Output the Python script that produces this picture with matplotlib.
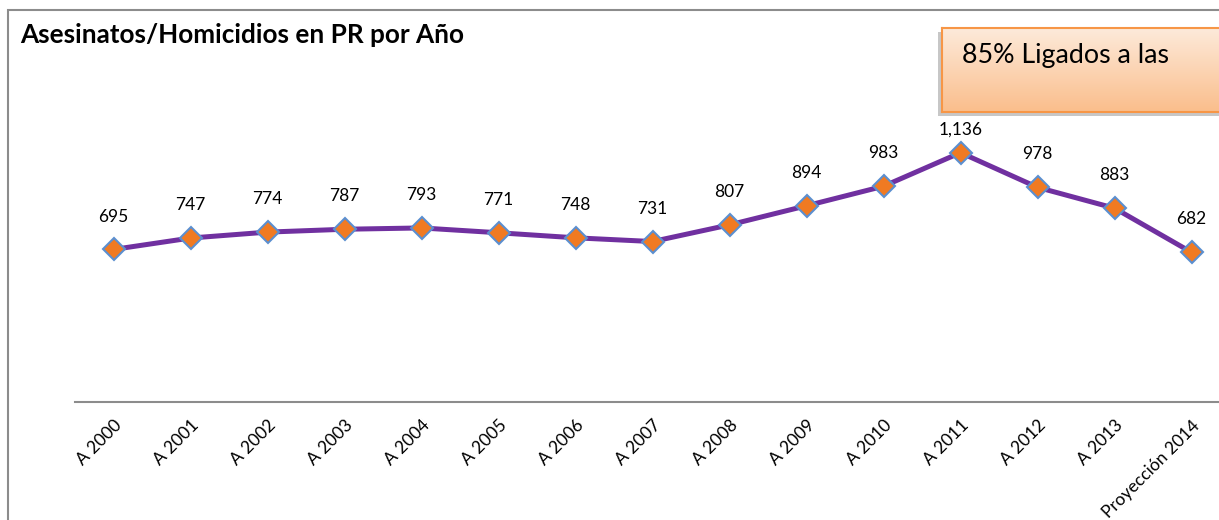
import numpy as np
import matplotlib.pyplot as plt
from matplotlib.patches import Rectangle

# data
years = ['A 2000', 'A 2001', 'A 2002', 'A 2003', 'A 2004', 'A 2005', 'A 2006',
         'A 2007', 'A 2008', 'A 2009', 'A 2010', 'A 2011', 'A 2012', 'A 2013',
         'Proyección 2014']
homicidios = [695, 747, 774, 787, 793, 771, 748, 731, 807, 894, 983, 1136, 978, 883, 682]
labels = ['695', '747', '774', '787', '793', '771', '748', '731', '807', '894',
          '983', '1,136', '978', '883', '682']

plt.rcParams['font.family'] = ['Lato', 'DejaVu Sans']

W, H = 1219, 520
fig = plt.figure(figsize=(W / 100, H / 100), dpi=100)

# chart border (cropped on right and bottom)
fig.patches.append(Rectangle((8 / W, -0.1), 1.2, 1 - 10 / H + 0.1,
                             transform=fig.transFigure, fill=False,
                             edgecolor='#8c8c8c', linewidth=1.5))

# plot area: axis line at y=402px, 77px per category
ax = fig.add_axes([75 / W, 1 - 402 / H, 1155 / W, (402 - 138.6) / H])
x = np.arange(len(years))
ax.plot(x, homicidios, color='#7030A0', linewidth=3.6, zorder=2,
        marker='D', markersize=11.5, markerfacecolor='#F07A22',
        markeredgecolor='#5B8FD0', markeredgewidth=1.5)
ax.set_xlim(-0.5, len(years) - 0.5)
ax.set_ylim(0, 1200)

for xi, v, lab in zip(x, homicidios, labels):
    ax.text(xi, min(v + 150, 1240), lab, ha='center', va='center',
            fontsize=12.5, color='black', clip_on=False)

for s in ['top', 'right', 'left']:
    ax.spines[s].set_visible(False)
ax.spines['bottom'].set_color('#8c8c8c')
ax.spines['bottom'].set_linewidth(1.5)
ax.set_yticks([])
ax.set_xticks(x)
ax.set_xticklabels(years, rotation=45, ha='right', rotation_mode='anchor',
                   fontsize=12.5)
ax.tick_params(axis='x', length=0, pad=11)
ax.patch.set_visible(False)

fig.text(20 / W, 1 - 35 / H, 'Asesinatos/Homicidios en PR por Año',
         fontsize=18.8, fontweight='bold', ha='left', va='center')

# orange gradient text box
bx, by, bw, bh = 942 / W, 1 - 112 / H, 300 / W, 84 / H
fig.patches.append(Rectangle((bx - 4 / W, by - 4 / H), bw, bh,
                             transform=fig.transFigure, facecolor='#9a9a9a',
                             alpha=0.55, edgecolor='none', zorder=3))
bax = fig.add_axes([bx, by, bw, bh], zorder=4)
grad = np.linspace(0, 1, 100).reshape(-1, 1)
c1 = np.array([253, 234, 218]) / 255
c2 = np.array([250, 190, 140]) / 255
img = c1 + (c2 - c1) * grad[:, :, None]
bax.imshow(img, aspect='auto', extent=[0, 1, 0, 1])
bax.set_xticks([])
bax.set_yticks([])
for s in bax.spines.values():
    s.set_color('#F79646')
    s.set_linewidth(1.5)
fig.text(962 / W, 1 - 55 / H, '85% Ligados a las', fontsize=19.3,
         ha='left', va='center', zorder=5)

fig.savefig('out.png', dpi=100)
